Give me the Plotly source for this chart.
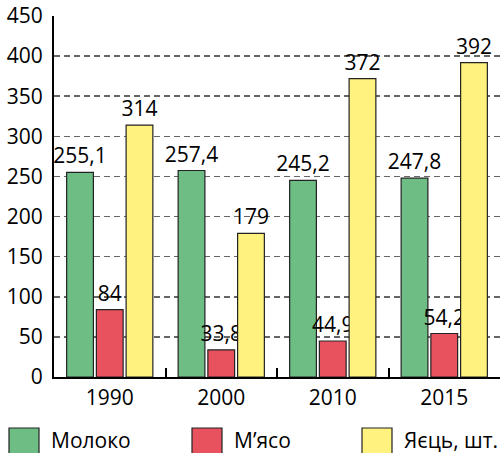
import plotly.graph_objects as go

years = ["1990", "2000", "2010", "2015"]
milk = [255.1, 257.4, 245.2, 247.8]
meat = [84, 33.8, 44.9, 54.2]
eggs = [314, 179, 372, 392]
series_names = ["Молоко", "М’ясо", "Яєць, шт."]
colors = ["#6dbd84", "#e8525f", "#fff27e"]
y_ticks = [0, 50, 100, 150, 200, 250, 300, 350, 400, 450]

FONT = "Open Sans"
FS = 21

W, H = 500, 453
L, R, T, B = 54, 0, 16, 76
PW, PH = W - L - R, H - T - B


def fmt(v):
    return f"{v:g}".replace(".", ",")


fig = go.Figure()
for name, vals, col in zip(series_names, [milk, meat, eggs], colors):
    fig.add_trace(go.Bar(
        x=years, y=vals, name=name,
        marker=dict(color=col, line=dict(color="#222222", width=1.2)),
        text=[fmt(v) for v in vals], textposition="outside",
        constraintext="none",
        textfont=dict(family=FONT, size=FS, color="black"),
        outsidetextfont=dict(family=FONT, size=FS, color="black"),
        cliponaxis=False, showlegend=False, hoverinfo="skip",
    ))

# custom legend (large swatches)
def px_x(px):
    return (px - L) / PW


def px_y(py):
    return (H - B - py) / PH


legend_x = [9, 192, 362]
for name, col, lx in zip(series_names, colors, legend_x):
    fig.add_shape(type="rect", xref="paper", yref="paper",
                  x0=px_x(lx), x1=px_x(lx + 30), y0=px_y(428), y1=px_y(454),
                  fillcolor=col, line=dict(color="#222222", width=1.2))
    fig.add_annotation(xref="paper", yref="paper", x=px_x(lx + 40), y=px_y(440),
                       text=name, showarrow=False, xanchor="left", yanchor="middle",
                       font=dict(family=FONT, size=FS, color="black"))

fig.update_layout(
    width=W, height=H,
    margin=dict(l=L, r=R, t=T, b=B, autoexpand=False),
    paper_bgcolor="white", plot_bgcolor="white",
    barmode="group", bargap=0.2, bargroupgap=0.1,
    font=dict(family=FONT, size=FS, color="black"),
    uniformtext=dict(mode=False),
)
fig.update_xaxes(
    type="category", showline=True, linecolor="black", linewidth=2,
    ticks="inside", tickson="boundaries", ticklen=9, tickwidth=2, tickcolor="black",
    showgrid=False, tickfont=dict(family=FONT, size=FS, color="black"),
    ticklabelstandoff=1, automargin=False,
)
fig.update_yaxes(
    range=[0, 450], tickvals=y_ticks, showline=True, linecolor="black", linewidth=2,
    showgrid=True, gridcolor="#666666", gridwidth=1.5, griddash="6px,4px",
    ticks="", zeroline=False, tickfont=dict(family=FONT, size=FS, color="black"),
    ticklabelstandoff=5, automargin=False,
)
fig.write_html(
    "out.html",
    config={"displayModeBar": False, "staticPlot": True},
    post_script="document.body.style.margin='0';document.body.style.overflow='hidden';",
)
